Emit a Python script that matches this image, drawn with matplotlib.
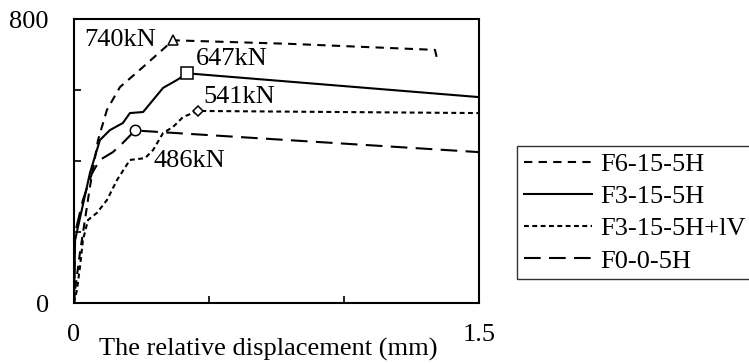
import matplotlib
matplotlib.use('Agg')
import matplotlib.pyplot as plt

plt.rcParams['font.family'] = ['Liberation Serif', 'DejaVu Serif']
plt.rcParams['lines.scale_dashes'] = False

# load vs relative displacement
f6_x = [0, 0.004, 0.022, 0.059, 0.089, 0.122, 0.170, 0.256, 0.367, 0.80, 1.337, 1.344]
f6_y = [0, 37, 141, 327, 459, 544, 608, 665, 740, 730, 713, 690]

f3_x = [0, 0.004, 0.059, 0.096, 0.133, 0.181, 0.207, 0.256, 0.293, 0.330, 0.381, 0.419, 1.5]
f3_y = [0, 177, 366, 459, 487, 507, 535, 538, 572, 606, 628, 647, 580]

f3v_x = [0, 0.011, 0.022, 0.033, 0.052, 0.085, 0.122, 0.159, 0.207, 0.263, 0.293, 0.330, 0.367, 0.404, 0.459, 1.5]
f3v_y = [0, 37, 101, 177, 234, 254, 290, 346, 403, 408, 431, 479, 496, 524, 541, 535]

f0_x = [0, 0.004, 0.033, 0.067, 0.096, 0.144, 0.181, 0.226, 1.5]
f0_y = [0, 197, 290, 366, 403, 425, 451, 486, 425]

names = ['F6-15-5H', 'F3-15-5H', 'F3-15-5H+lV', 'F0-0-5H']
peaks = ['740kN', '647kN', '541kN', '486kN']
peak_idx = [8, 11, 14, 7]

fig = plt.figure(figsize=(7.49, 3.64), dpi=100)
ax = fig.add_axes([74/749, 61/364, 405/749, 284/364])

series = [
    (f6_x, f6_y, (0, (6, 4.5)), '^', 7),
    (f3_x, f3_y, '-', 's', 8),
    (f3v_x, f3v_y, (0, (3.5, 2.5)), 'D', 5),
    (f0_x, f0_y, (0, (12, 6)), 'o', 7.5),
]
lines = []
for (xs, ys, ls, mk, ms), name, i in zip(series, names, peak_idx):
    ln, = ax.plot(xs, ys, color='black', lw=1.5, ls=ls, label=name)
    lines.append(ln)
    ax.plot(xs[i], ys[i], marker=mk, ms=ms, mfc='white', mec='black', mew=1.1,
            ls='none', zorder=5)

offsets = [(-12, 0, 'right', 'center'), (6, 10, 'left', 'center'),
           (4, 10, 'left', 'center'), (13, -22, 'left', 'center')]
for (xs, ys, *_), txt, i, (dx, dy, ha, va) in zip(series, peaks, peak_idx, offsets):
    ax.annotate(txt, (xs[i], ys[i]), xytext=(dx, dy), textcoords='offset points',
                ha=ha, va=va, fontsize=19)

ax.set_xlim(0, 1.5)
ax.set_ylim(0, 800)
ax.set_xticks([0, 0.5, 1.0, 1.5])
ax.set_xticklabels(['0', '', '', '1.5'])
ax.set_yticks([0, 200, 400, 600, 800])
ax.set_yticklabels(['0', '', '', '', '800'])
ax.tick_params(direction='in', length=5, width=1.2, labelsize=19)
ax.tick_params(axis='x', pad=15)
ax.tick_params(axis='y', pad=18)
for s in ax.spines.values():
    s.set_linewidth(1.5)

fig.text(268/749, 1 - 349/364, 'The relative displacement (mm)', ha='center', va='center',
         fontsize=19)

leg = fig.legend(handles=lines, loc='upper left', bbox_to_anchor=(517/749, 1 - 146/364),
                 frameon=True, fancybox=False, edgecolor='black', fontsize=19,
                 handlelength=2.6, handletextpad=0.3, borderpad=0.25, labelspacing=0.33,
                 borderaxespad=0)
leg.get_frame().set_linewidth(1.0)

fig.savefig('out.png', dpi=100)
